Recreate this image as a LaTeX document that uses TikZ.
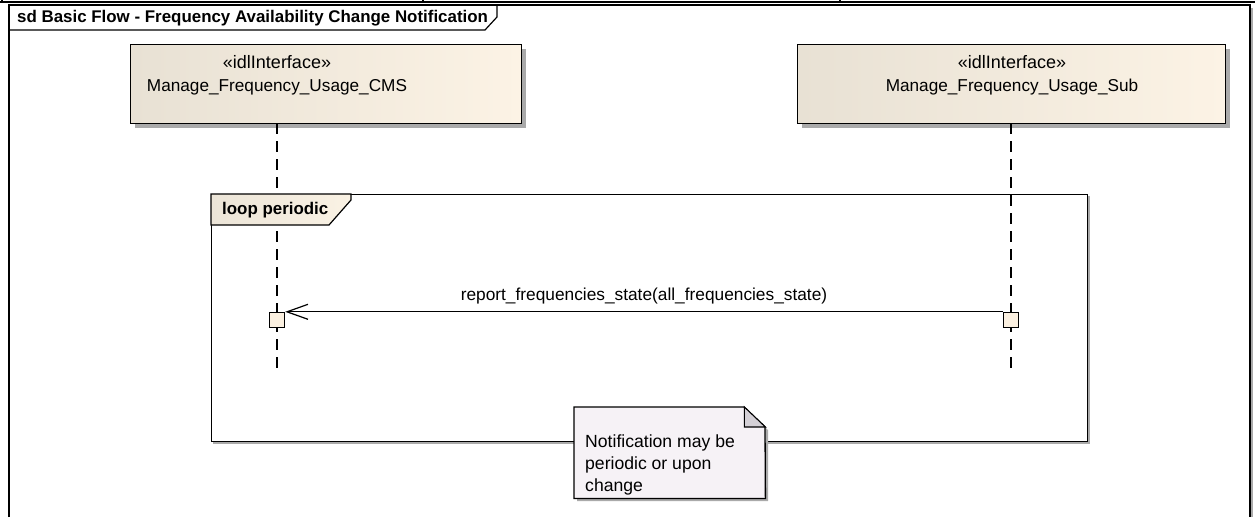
\documentclass[tikz,border=0pt]{standalone}
\usepackage{fontspec}
\setmainfont{Liberation Sans}
\usetikzlibrary{arrows.meta,shadows}

\definecolor{boxL}{RGB}{232,225,212}
\definecolor{boxR}{RGB}{252,243,229}
\definecolor{actfill}{RGB}{251,240,224}
\definecolor{tabL}{RGB}{236,229,216}
\definecolor{tabR}{RGB}{250,242,228}
\definecolor{notefill}{RGB}{246,242,246}
\definecolor{notefold}{RGB}{212,208,214}
\definecolor{shadowgrey}{RGB}{170,170,170}

\tikzset{
  lifebox/.style={draw=black, line width=1.4pt, left color=boxL, right color=boxR,
    minimum width=391pt, minimum height=79pt, inner sep=0pt, anchor=north west,
    drop shadow={shadow xshift=4pt, shadow yshift=-4pt, opacity=1, fill=shadowgrey}},
  stereo/.style={font=\fontsize{17.2}{20}\selectfont},
  stereotag/.style={font=\fontsize{18}{20}\selectfont},
  lifeline/.style={line width=1.4pt, dash pattern=on 11pt off 7pt},
  actbox/.style={draw=black, line width=1.4pt, fill=actfill, minimum width=15pt,
    minimum height=15pt, inner sep=0pt},
  msg/.style={line width=1.2pt, -{Straight Barb[length=21pt, width=15pt, line width=1.2pt]}},
  framebox/.style={draw=black, line width=1.4pt},
  boldlabel/.style={font=\bfseries\fontsize{16.9}{20}\selectfont, anchor=west, inner sep=0pt},
}

\begin{document}
\begin{tikzpicture}[x=1pt, y=-1pt, font=\fontsize{17.2}{22}\selectfont]
\useasboundingbox (0,0) rectangle (1255,517);

% strip of the enclosing table above the diagram
\draw[line width=1.5pt] (0,2) -- (1255,2);
\draw[line width=1.2pt] (2,0) -- (2,2) (423,0) -- (423,2) (840,0) -- (840,2);

% sequence diagram frame and its title tab
\draw[shadowgrey, line width=1.2pt] (1252,8) -- (1252,517);
\draw[framebox] (9,517) -- (9,5) -- (1250,5) -- (1250,517);
\draw[framebox, line width=1.2pt] (9,30) -- (485,30) -- (497,17) -- (497,5);
\node[boldlabel] (title) at (17,18) {sd Basic Flow - Frequency Availability Change Notification};

% lifeline heads
\node[lifebox] (cms) at (130,44) {};
\node[lifebox, minimum width=428pt] (sub) at (797,44) {};
\node[stereotag] (cmsStereo) at (277,62) {«idlInterface»};
\node[stereo] (cmsName) at (277,87) {Manage\_Frequency\_Usage\_CMS};
\node[stereotag] (subStereo) at (1012,62) {«idlInterface»};
\node[stereo] (subName) at (1012,87) {Manage\_Frequency\_Usage\_Sub};

% lifelines
\coordinate (cmsTop) at (277,123);
\coordinate (cmsEnd) at (277,375);
\coordinate (subTop) at (1011,123);
\coordinate (subEnd) at (1011,375);
\draw[lifeline] (cmsTop) -- (cmsEnd);
\draw[lifeline] (subTop) -- (subEnd);

% loop combined fragment
\draw[shadowgrey, line width=1.2pt] (213,443) -- (1089,443) -- (1089,196);
\node[framebox, minimum width=876pt, minimum height=247pt, inner sep=0pt,
      anchor=north west] (loop) at (211,194) {};
\draw[framebox, line width=1.2pt, left color=tabL, right color=tabR]
  (loop.north west) -- ++(140,0) -- ++(0,6) -- ++(-22,25) -- ++(-118,0) -- cycle;
\node[boldlabel] (loopLabel) at (222,210) {loop periodic};

% activations and the message
\node[actbox] (actCms) at (277,320) {};
\node[actbox] (actSub) at (1011,320) {};
\draw[msg] (actSub.north west) -- (actCms.north east)
  node[midway, above=4pt, font=\fontsize{17.3}{20}\selectfont] (msgLabel)
  {report\_frequencies\_state(all\_frequencies\_state)};

% note with folded corner
\node[minimum width=191pt, minimum height=91pt, inner sep=0pt, anchor=north west]
  (note) at (574,407) {};
\fill[shadowgrey] ([shift={(3,3)}]note.north west) -- ++(170,0) -- ++(21,20)
  -- ++(0,71) -- ++(-191,0) -- cycle;
\draw[line width=1.3pt, fill=notefill] (note.north west) -- ++(170,0) -- ++(21,20)
  -- (note.south east) -- (note.south west) -- cycle;
\draw[line width=1.1pt, fill=notefold] ([xshift=-21pt]note.north east) -- ++(0,20) -- ++(21,0) -- cycle;
\node[anchor=west, align=left, inner sep=0pt, font=\fontsize{17.6}{22}\selectfont]
  (noteText) at (585,465) {Notification may be\\periodic or upon\\change};
\end{tikzpicture}
\end{document}
